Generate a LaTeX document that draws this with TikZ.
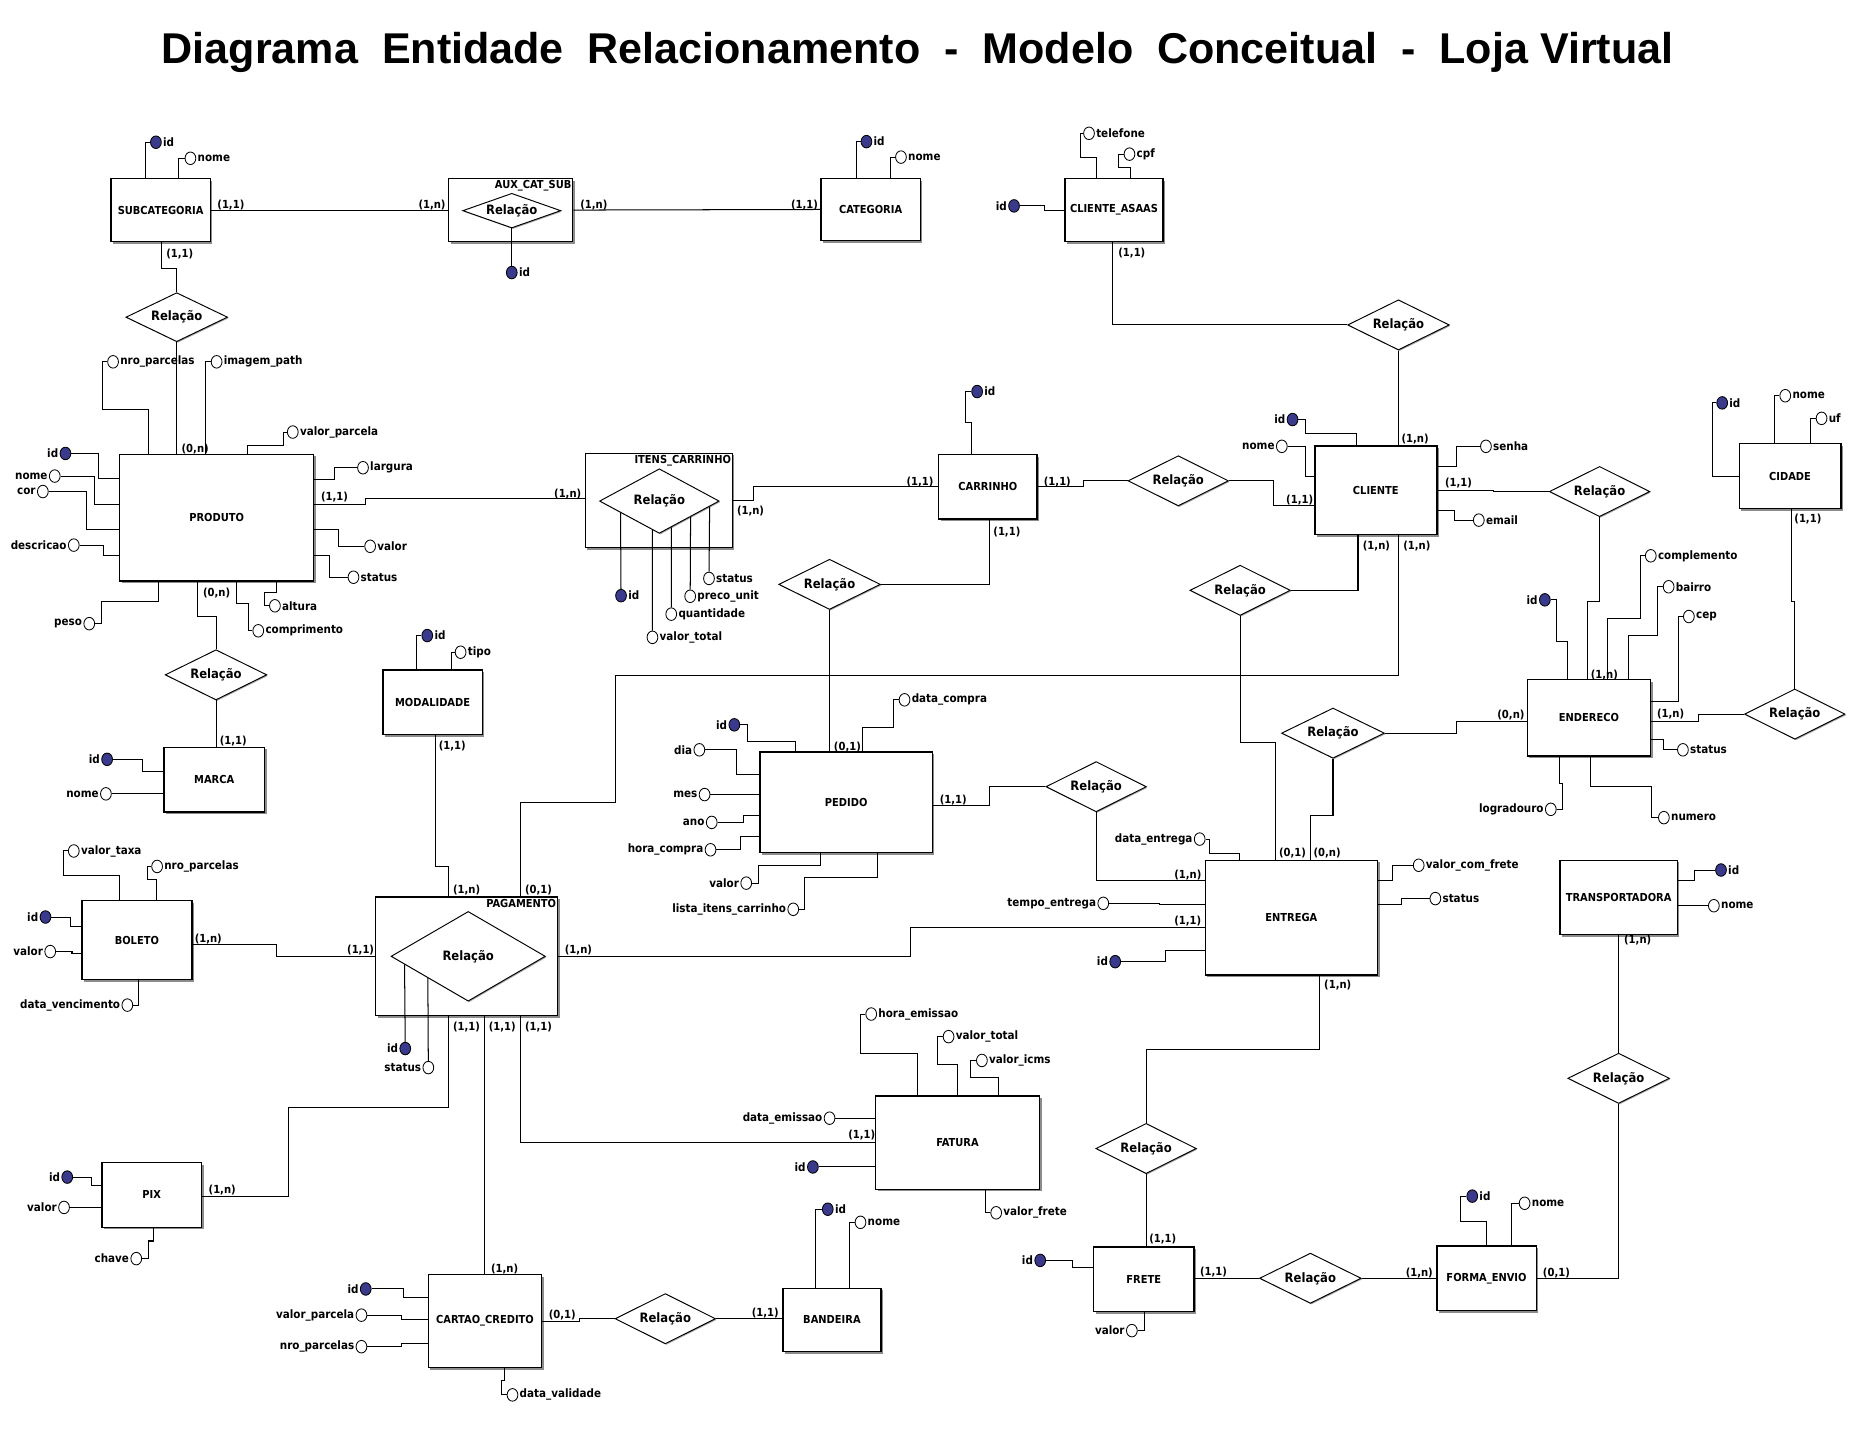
\documentclass[tikz,border=0pt]{standalone}
\usepackage{fontspec}
\setmainfont{Liberation Sans}
\newfontfamily\labfont{DejaVu Sans Condensed}
\usetikzlibrary{shapes.geometric,shadows,calc}
\definecolor{pkblue}{RGB}{58,58,140}
\newcommand{\attf}{\labfont\bfseries\fontsize{9.65}{11}\selectfont}
\newcommand{\entf}{\labfont\bfseries\fontsize{9.2}{11}\selectfont}
\newcommand{\relf}{\labfont\bfseries\fontsize{10.8}{13}\selectfont}
\newcommand{\cardf}{\labfont\bfseries\fontsize{9.3}{11}\selectfont}
\newcommand{\titlef}{\rmfamily\bfseries\fontsize{36}{40}\selectfont}
\newcommand{\wgap}{\hspace{0.556em}}
\tikzset{
 ent/.style={draw, line width=1.1pt, fill=white, inner sep=0pt, font=\entf,
   drop shadow={shadow xshift=1.8pt, shadow yshift=-1.8pt, fill=black!45, opacity=1}},
 rel/.style={diamond, draw, line width=0.8pt, fill=white, aspect=3, inner sep=0pt, font=\relf,
   drop shadow={shadow xshift=0.9pt, shadow yshift=-0.9pt, fill=black!35, opacity=1}},
 att/.style={ellipse, draw, line width=0.7pt, fill=white, minimum width=9pt, minimum height=10.5pt, inner sep=0pt, label distance=1pt},
 pk/.style={att, fill=pkblue},
 card/.style={inner sep=0pt, font=\cardf},
 ttl/.style={inner sep=1pt, font=\entf, anchor=north east},
 lnk/.style={line width=0.85pt},
 every label/.append style={font=\attf, inner sep=1pt},
}
\begin{document}
\begin{tikzpicture}[x=0.995pt,y=-0.995pt]
\fill[white] (0,0) rectangle (1567.84,1220.1);
\useasboundingbox (0,0) rectangle (1567.84,1220.1);

\node[font=\titlef, anchor=base, inner sep=0pt] (title) at (771,53)
 {Diagrama\wgap Entidade\wgap Relacionamento\wgap -\wgap Modelo\wgap Conceitual\wgap -\wgap Loja Virtual};

% ---------- entities ----------
\node[ent, minimum width=83pt, minimum height=53pt] (sub) at (135,176.5) {SUBCATEGORIA};
\node[ent, minimum width=104pt, minimum height=53pt] (aux) at (429,176.5) {};
\node[ent, minimum width=83pt, minimum height=52pt] (cat) at (731.5,176) {CATEGORIA};
\node[ent, minimum width=82pt, minimum height=53pt] (cla) at (936,176.5) {CLIENTE\_ASAAS};
\node[ent, minimum width=162pt, minimum height=106pt] (prod) at (182,435) {PRODUTO};
\node[ent, minimum width=123pt, minimum height=79pt] (itens) at (553.5,420.5) {};
\node[ent, minimum width=82pt, minimum height=54pt] (car) at (830,409) {CARRINHO};
\node[ent, minimum width=102pt, minimum height=74pt] (cli) at (1156,412) {CLIENTE};
\node[ent, minimum width=85pt, minimum height=54pt] (cid) at (1504,400) {CIDADE};
\node[ent, minimum width=103pt, minimum height=64pt] (endr) at (1335,603) {ENDERECO};
\node[ent, minimum width=83pt, minimum height=54pt] (mod) at (363.5,590) {MODALIDADE};
\node[ent, minimum width=84pt, minimum height=54pt] (marca) at (180,655) {MARCA};
\node[ent, minimum width=144pt, minimum height=84pt] (ped) at (711,674) {PEDIDO};
\node[ent, minimum width=144pt, minimum height=96pt] (entg) at (1085,771) {ENTREGA};
\node[ent, minimum width=98pt, minimum height=62pt] (transp) at (1360,754) {TRANSPORTADORA};
\node[ent, minimum width=92pt, minimum height=66pt] (bol) at (115,790) {BOLETO};
\node[ent, minimum width=152pt, minimum height=99pt] (pag) at (392,803.5) {};
\node[ent, minimum width=137pt, minimum height=78pt] (fat) at (804.5,960) {FATURA};
\node[ent, minimum width=83pt, minimum height=54pt] (pix) at (127.5,1004) {PIX};
\node[ent, minimum width=95pt, minimum height=78pt] (cc) at (407.5,1110) {CARTAO\_CREDITO};
\node[ent, minimum width=82pt, minimum height=53pt] (band) at (699,1109) {BANDEIRA};
\node[ent, minimum width=84pt, minimum height=54pt] (frete) at (961,1075) {FRETE};
\node[ent, minimum width=83pt, minimum height=54pt] (fe) at (1249,1074) {FORMA\_ENVIO};

\node[ttl] (auxt) at ([xshift=-0.5pt,yshift=-1pt]aux.north east) {AUX\_CAT\_SUB};
\node[ttl] (itenst) at ([xshift=-0.5pt,yshift=-1pt]itens.north east) {ITENS\_CARRINHO};
\node[ttl] (pagt) at ([xshift=-0.5pt,yshift=-1pt]pag.north east) {PAGAMENTO};

% ---------- relationships ----------
\node[rel, minimum width=85pt, minimum height=41pt] (r1) at (148.5,266.5) {Relação};
\node[rel, minimum width=82pt, minimum height=29pt] (raux) at (430,177) {Relação};
\node[rel, minimum width=85pt, minimum height=42pt] (rcla) at (1175,273) {Relação};
\node[rel, minimum width=100pt, minimum height=54pt] (ritens) at (554,421) {Relação};
\node[rel, minimum width=84pt, minimum height=42pt] (rcarcli) at (990,404) {Relação};
\node[rel, minimum width=85pt, minimum height=42pt] (rcarped) at (697,491) {Relação};
\node[rel, minimum width=84pt, minimum height=42pt] (rclient) at (1042,496) {Relação};
\node[rel, minimum width=84pt, minimum height=42pt] (rcliend) at (1344,413) {Relação};
\node[rel, minimum width=86pt, minimum height=42pt] (rendent) at (1120,616) {Relação};
\node[rel, minimum width=84pt, minimum height=42pt] (rendcid) at (1508,600) {Relação};
\node[rel, minimum width=85pt, minimum height=42pt] (r2) at (181.5,567) {Relação};
\node[rel, minimum width=84pt, minimum height=42pt] (rpedent) at (921,661) {Relação};
\node[rel, minimum width=129pt, minimum height=75pt] (rpag) at (393.4,803.5) {Relação};
\node[rel, minimum width=84pt, minimum height=42pt] (rccband) at (559,1108) {Relação};
\node[rel, minimum width=84pt, minimum height=42pt] (rentfre) at (963,965) {Relação};
\node[rel, minimum width=85pt, minimum height=42pt] (rfrefe) at (1101,1074) {Relação};
\node[rel, minimum width=85pt, minimum height=42pt] (rtransp) at (1360,906) {Relação};

% ---------- attributes ----------
\node[pk, label=right:id] (subid) at (131,119.5) {};
\node[att, label=right:nome] (subnome) at (160,133) {};
\node[pk, label=right:id] (auxid) at (430,229) {};
\node[pk, label=right:id] (catid) at (728,119) {};
\node[att, label=right:nome] (catnome) at (757,132) {};
\node[att, label=right:telefone] (clatel) at (915,112) {};
\node[att, label=right:cpf] (clacpf) at (949,129.5) {};
\node[pk, label=left:id] (claid) at (852,173) {};

\node[att, label=right:nro\_parcelas] (prodnro) at (95,304) {};
\node[att, label=right:imagem\_path] (prodimg) at (182,304) {};
\node[att, label=right:valor\_parcela] (prodvp) at (246,363) {};
\node[pk, label=left:id] (prodid) at (55,381) {};
\node[att, label=left:nome] (prodnome) at (46,400) {};
\node[att, label=left:cor] (prodcor) at (36,413) {};
\node[att, label=left:descricao] (proddesc) at (62,458) {};
\node[att, label=left:peso] (prodpeso) at (75,524) {};
\node[att, label=right:altura] (prodalt) at (231,509) {};
\node[att, label=right:comprimento] (prodcomp) at (217,530) {};
\node[att, label=right:largura] (prodlarg) at (305,393) {};
\node[att, label=right:valor] (prodval) at (311,459) {};
\node[att, label=right:status] (prodstat) at (297,485) {};

\node[pk, label=left:id] (marcaid) at (90,638) {};
\node[att, label=left:nome] (marcanome) at (89,667) {};
\node[pk, label=right:id] (modid) at (359,534) {};
\node[att, label=right:tipo] (modtipo) at (387,548) {};

\node[pk, label=right:id] (itid) at (521.8,500.5) {};
\node[att, label=right:valor\_total] (itvt) at (548.2,535.5) {};
\node[att, label=right:quantidade] (itqt) at (564,516) {};
\node[att, label=right:preco\_unit] (itpu) at (579.9,501) {};
\node[att, label=right:status] (itst) at (595.7,486) {};
\node[pk, label=right:id] (carid) at (821,329) {};

\node[pk, label=left:id] (cliid) at (1086,352.5) {};
\node[att, label=left:nome] (clinome) at (1077,375) {};
\node[att, label=right:senha] (clisenha) at (1248.5,375) {};
\node[att, label=right:email] (cliemail) at (1242.5,437) {};
\node[pk, label=right:id] (cidid) at (1447,338.5) {};
\node[att, label=right:nome] (cidnome) at (1500,332.5) {};
\node[att, label=right:uf] (ciduf) at (1530.5,351.5) {};

\node[pk, label=left:id] (endid) at (1298,504) {};
\node[att, label=right:complemento] (endcomp) at (1387,467) {};
\node[att, label=right:bairro] (endbai) at (1402,493) {};
\node[att, label=right:cep] (endcep) at (1419,518) {};
\node[att, label=right:status] (endstat) at (1414,630) {};
\node[att, label=left:logradouro] (endlog) at (1303,680) {};
\node[att, label=right:numero] (endnum) at (1398,687) {};

\node[pk, label=left:id] (pedid) at (617,609) {};
\node[att, label=left:dia] (peddia) at (587.6,630) {};
\node[att, label=left:mes] (pedmes) at (592,667.6) {};
\node[att, label=left:ano] (pedano) at (598,691) {};
\node[att, label=left:hora\_compra] (pedhora) at (597,714) {};
\node[att, label=right:data\_compra] (peddc) at (760,588) {};
\node[att, label=left:valor] (pedval) at (627,742) {};
\node[att, label=left:lista\_itens\_carrinho] (pedlista) at (666.5,764) {};

\node[att, label=left:data\_entrega] (entde) at (1008,705) {};
\node[att, label=left:tempo\_entrega] (entte) at (927,759) {};
\node[pk, label=left:id] (entid) at (937,808) {};
\node[att, label=right:valor\_com\_frete] (entvcf) at (1192,727) {};
\node[att, label=right:status] (entst) at (1206,755) {};
\node[pk, label=right:id] (trid) at (1446,731) {};
\node[att, label=right:nome] (trnome) at (1440,761) {};

\node[att, label=right:valor\_taxa] (bolvt) at (62,715) {};
\node[att, label=right:nro\_parcelas] (bolnro) at (132,728) {};
\node[pk, label=left:id] (bolid) at (38.2,770.5) {};
\node[att, label=left:valor] (bolval) at (42.2,799.5) {};
\node[att, label=left:data\_vencimento] (boldv) at (107,844.5) {};
\node[pk, label=left:id] (pagid) at (340.5,881) {};
\node[att, label=left:status] (pagst) at (359.9,897) {};

\node[att, label=right:hora\_emissao] (fathe) at (732,852) {};
\node[att, label=right:valor\_total] (fatvt) at (797,871) {};
\node[att, label=right:valor\_icms] (fatvi) at (825,891) {};
\node[att, label=left:data\_emissao] (fatde) at (697,939.5) {};
\node[pk, label=left:id] (fatid) at (683,980.5) {};
\node[att, label=right:valor\_frete] (fatvf) at (837,1019) {};

\node[pk, label=left:id] (pixid) at (56.5,989) {};
\node[att, label=left:valor] (pixval) at (53.8,1014.5) {};
\node[att, label=left:chave] (pixch) at (114.5,1057.5) {};
\node[pk, label=left:id] (ccid) at (307.3,1083) {};
\node[att, label=left:valor\_parcela] (ccvp) at (303.7,1105) {};
\node[att, label=left:nro\_parcelas] (ccnp) at (303.7,1131.5) {};
\node[att, label=right:data\_validade] (ccdv) at (430.6,1172) {};
\node[pk, label=right:id] (bandid) at (695.5,1016) {};
\node[att, label=right:nome] (bandnome) at (723,1027) {};
\node[pk, label=left:id] (freid) at (874,1059) {};
\node[att, label=left:valor] (freval) at (951,1118) {};
\node[pk, label=right:id] (feid) at (1237,1005) {};
\node[att, label=right:nome] (fenome) at (1281,1011) {};

% ---------- cardinalities ----------
\node[card] (k1) at (194,172) {(1,1)};
\node[card] (k2) at (363,172) {(1,n)};
\node[card] (k3) at (499,172) {(1,n)};
\node[card] (k4) at (676,172) {(1,1)};
\node[card] (k5) at (151,213.5) {(1,1)};
\node[card] (k6) at (164,377.5) {(0,n)};
\node[card] (k7) at (951,213) {(1,1)};
\node[card] (k8) at (1189,369) {(1,n)};
\node[card] (k9) at (281,418) {(1,1)};
\node[card] (k10) at (477,415) {(1,n)};
\node[card] (k11) at (182,498) {(0,n)};
\node[card] (k12) at (196,622.5) {(1,1)};
\node[card] (k13) at (380,627) {(1,1)};
\node[card] (k14) at (392,748) {(1,n)};
\node[card] (k15) at (452.5,748) {(0,1)};
\node[card] (k16) at (630.6,429.5) {(1,n)};
\node[card] (k17) at (773,404.8) {(1,1)};
\node[card] (k18) at (888.4,404.8) {(1,1)};
\node[card] (k19) at (1092,419.8) {(1,1)};
\node[card] (k20) at (846,447) {(1,1)};
\node[card] (k21) at (712,628) {(0,1)};
\node[card] (k22) at (1225.5,405.5) {(1,1)};
\node[card] (k23) at (1156.5,459) {(1,n)};
\node[card] (k24) at (1190.5,459) {(1,n)};
\node[card] (k25) at (1348,567.3) {(1,n)};
\node[card] (k26) at (1269.5,601) {(0,n)};
\node[card] (k27) at (1403.7,600) {(1,n)};
\node[card] (k28) at (1519,436.3) {(1,1)};
\node[card] (k29) at (801,672) {(1,1)};
\node[card] (k30) at (998,735.5) {(1,n)};
\node[card] (k31) at (998,774) {(1,1)};
\node[card] (k32) at (1086,717) {(0,1)};
\node[card] (k33) at (1115,717) {(0,n)};
\node[card] (k34) at (486,798.5) {(1,n)};
\node[card] (k35) at (303,798.5) {(1,1)};
\node[card] (k36) at (175,788.6) {(1,n)};
\node[card] (k37) at (392,863) {(1,1)};
\node[card] (k38) at (422,863) {(1,1)};
\node[card] (k39) at (452.5,863) {(1,1)};
\node[card] (k40) at (186.7,1000) {(1,n)};
\node[card] (k41) at (424,1066) {(1,n)};
\node[card] (k42) at (724,954) {(1,1)};
\node[card] (k43) at (472.4,1105) {(0,1)};
\node[card] (k44) at (643,1103) {(1,1)};
\node[card] (k45) at (1124,828) {(1,n)};
\node[card] (k46) at (977,1041) {(1,1)};
\node[card] (k47) at (1019.6,1068.5) {(1,1)};
\node[card] (k48) at (1192.5,1069.5) {(1,n)};
\node[card] (k49) at (1307.7,1069.5) {(0,1)};
\node[card] (k50) at (1376,790) {(1,n)};

% ---------- connectors ----------
\begin{scope}[lnk]
% SUBCATEGORIA / AUX / CATEGORIA
\draw (sub.north -| 122,0) |- (subid);
\draw (sub.north -| 150,0) |- (subnome);
\draw (sub.east) -- (aux.west);
\draw (sub.south -| 136,0) |- (148.5,226) -- (r1.north);
\draw (r1.south) -- (r1.south |- prod.north);
\draw (raux.south) -- (auxid);
\draw (aux.east) -- (cat.west);
\draw (cat.north -| 720,0) |- (catid);
\draw (cat.north -| 748,0) |- (catnome);
% CLIENTE_ASAAS
\draw (cla.north -| 921,0) |- (908,132) |- (clatel);
\draw (cla.north -| 949.5,0) |- (940,141) |- (clacpf);
\draw (claid) -| (878,177) -- (cla.west |- 0,177);
\draw (cla.south -| 935,0) |- (rcla.west);
\draw (rcla.south) -- (rcla.south |- cli.north);
% PRODUTO
\draw (prod.north -| 125,0) |- (86,344) |- (prodnro);
\draw (prod.north -| 173,0) |- (prodimg);
\draw (prod.north -| 208,0) |- (238,374) |- (prodvp);
\draw (prodid) -| (83,402) -- (prod.west |- 0,402);
\draw (prodnome) -| (79,424) -- (prod.west |- 0,424);
\draw (prodcor) -| (73,445) -- (prod.west |- 0,445);
\draw (proddesc) -| (87,467) -- (prod.west |- 0,467);
\draw (prod.south -| 133,0) |- (85,505) |- (prodpeso);
\draw (prod.south -| 232,0) |- (222,498) |- (prodalt);
\draw (prod.south -| 199,0) |- (209,507) |- (prodcomp);
\draw (prod.east |- 0,403) -| (281,393) -- (prodlarg);
\draw (prod.east |- 0,445) -| (284,459) -- (prodval);
\draw (prod.east |- 0,467) -| (277,485) -- (prodstat);
\draw (prod.east |- 0,424) -| (307,419) -- (itens.west |- 0,419);
\draw (prod.south -| 166,0) |- (181.5,518) -- (r2.north);
\draw (r2.south) -- (r2.south |- marca.north);
% MARCA / MODALIDADE
\draw (marcaid) -| (120,648) -- (marca.west |- 0,648);
\draw (marcanome) -- (marca.west |- marcanome);
\draw (mod.north -| 350,0) |- (modid);
\draw (mod.north -| 379,0) |- (modtipo);
\draw (mod.south -| 365.5,0) |- (377,728) -- (pag.north -| 377,0);
% ITENS_CARRINHO
\draw ($(ritens.west)!0.356!(ritens.south)$) -- (itid);
\draw ($(ritens.west)!0.884!(ritens.south)$) -- (itvt);
\draw ($(ritens.south)!0.2!(ritens.east)$) -- (itqt);
\draw ($(ritens.south)!0.518!(ritens.east)$) -- (itpu);
\draw ($(ritens.south)!0.834!(ritens.east)$) -- (itst);
\draw (itens.east) -| (633,409) -- (car.west);
% CARRINHO
\draw (car.north -| 816,0) |- (811,355) |- (carid);
\draw (car.east) -| (910,404) -- (rcarcli.west);
\draw (rcarcli.east) -| (1070,425) -- (cli.west |- 0,425);
\draw (car.south -| 831,0) |- (rcarped.east);
\draw (rcarped.south) -- (rcarped.south |- ped.north);
% CLIENTE
\draw (cliid) -| (1097,364) -| (cli.north -| 1140,0);
\draw (clinome) -| (1097,400) -- (cli.west |- 0,400);
\draw (cli.east |- 0,392) -| (1224,375) -- (clisenha);
\draw (cli.east |- 0,429) -| (1222,437) -- (cliemail);
\draw (cli.east) -| (1255,413) -- (rcliend.west);
\draw (rcliend.south) |- (1334,505) -- (endr.north -| 1334,0);
\draw (cli.south -| 1141,0) |- (rclient.east);
\draw (cli.south -| 1175,0) |- (517,567.6) |- (437,674) -- (pag.north -| 437,0);
% CIDADE
\draw (cid.west) -| (1438.5,338.5) -- (cidid);
\draw (cid.north -| 1491,0) |- (cidnome);
\draw (cid.north -| 1521,0) |- (ciduf);
\draw (rendcid.north) |- (1505,505) -- (cid.south -| 1505,0);
% ENDERECO
\draw (endid) -| (1308,539) -| (endr.north -| 1317,0);
\draw (endr.north -| 1351,0) |- (1378,520) |- (endcomp);
\draw (endr.north -| 1368,0) |- (1393,534) |- (endbai);
\draw (endr.east |- 0,589) -| (1410,518) -- (endcep);
\draw (endr.east |- 0,606) -| (1427,600) -- (rendcid.west);
\draw (endr.east |- 0,621) -| (1397.5,630) -- (endstat);
\draw (endr.south -| 1310,0) |- (1313,658.5) |- (endlog);
\draw (endr.south -| 1336,0) |- (1388,661) |- (endnum);
\draw (rendent.east) -| (1224,606) -- (endr.west |- 0,606);
\draw (rendent.south) |- (1101,685) -- (entg.north -| 1101,0);
\draw (rclient.south) |- (1071.5,624) -- (entg.north -| 1071.5,0);
% PEDIDO
\draw (pedid) -| (628,623) -| (ped.north -| 668,0);
\draw (peddia) -| (619,651) -- (ped.west |- 0,651);
\draw (pedmes) -- (ped.west |- pedmes);
\draw (pedano) -| (624.6,685) -- (ped.west |- 0,685);
\draw (pedhora) -| (622.5,702.6) -- (ped.west |- 0,702.6);
\draw (ped.north -| 725,0) |- (750.7,611.6) |- (peddc);
\draw (ped.south -| 689,0) |- (637,727) |- (pedval);
\draw (ped.south -| 737.6,0) |- (675.6,737) |- (pedlista);
\draw (ped.east |- 0,677) -| (831.7,661) -- (rpedent.west);
\draw (rpedent.south) |- (entg.west |- 0,740);
% ENTREGA
\draw (entde) -| (1016,717) -| (entg.north -| 1041.5,0);
\draw (entte) -| (974,760) -- (entg.west |- 0,760);
\draw (entid) -| (979,798.4) -- (entg.west |- 0,798.4);
\draw (entg.east |- 0,740) -| (1170.4,727) -- (entvcf);
\draw (entg.east |- 0,759.7) -| (1177.6,755) -- (entst);
\draw (entg.south -| 1109,0) |- (963,882) -- (rentfre.north);
\draw (rentfre.south) -- (rentfre.south |- frete.north);
% PAGAMENTO
\draw ($(rpag.west)!0.18!(rpag.south)$) -- (pagid);
\draw ($(rpag.west)!0.48!(rpag.south)$) -- (pagst);
\draw (bol.east |- 0,793.5) -| (232.6,803.5) -- (pag.west);
\draw (pag.east) -| (764.7,779) -- (entg.west |- 0,779);
\draw (pag.south -| 377,0) |- (242.5,930.6) |- (pix.east |- 0,1005);
\draw (pag.south -| 407,0) -- (cc.north -| 407,0);
\draw (pag.south -| 437,0) |- (fat.west |- 0,960);
% BOLETO
\draw (bol.north -| 100.3,0) |- (53.5,736) |- (bolvt);
\draw (bol.north -| 131.6,0) |- (123.6,738.8) |- (bolnro);
\draw (bolid) -| (59,778.4) -- (bol.west |- 0,778.4);
\draw (bolval) -| (60.5,801) -- (bol.west |- 0,801);
\draw (bol.south -| 116.3,0) |- (boldv);
% FATURA
\draw (fat.north -| 770.7,0) |- (722.8,885) |- (fathe);
\draw (fat.north -| 804.8,0) |- (788,894.8) |- (fatvt);
\draw (fat.north -| 838.6,0) |- (815.8,905) |- (fatvi);
\draw (fatde) -- (fat.west |- fatde);
\draw (fatid) -- (fat.west |- fatid);
\draw (fat.south -| 828.4,0) |- (fatvf);
% PIX
\draw (pixid) -| (77,996) -- (pix.west |- 0,996);
\draw (pixval) -- (pix.west |- pixval);
\draw (pix.south -| 128.6,0) |- (124.6,1042.7) |- (pixch);
% CARTAO_CREDITO / BANDEIRA
\draw (ccid) -| (339.2,1090) -- (cc.west |- 0,1090);
\draw (ccvp) -| (337.2,1109) -- (cc.west |- 0,1109);
\draw (ccnp) -| (337.2,1128.6) -- (cc.west |- 0,1128.6);
\draw (cc.south -| 423.9,0) |- (421.3,1160) |- (ccdv);
\draw (cc.east) -| (486.7,1108) -- (rccband.west);
\draw (rccband.east) -- (band.west |- rccband.east);
\draw (band.north -| 685.5,0) |- (bandid);
\draw (band.north -| 714,0) |- (bandnome);
% FRETE / FORMA_ENVIO / TRANSPORTADORA
\draw (freid) -| (901,1064.6) -- (frete.west |- 0,1064.6);
\draw (frete.south -| 961.5,0) |- (freval);
\draw (frete.east |- 0,1074) -- (rfrefe.west);
\draw (rfrefe.east) -- (fe.west |- rfrefe.east);
\draw (fe.north -| 1249,0) |- (1227.5,1026) |- (feid);
\draw (fe.north -| 1270,0) |- (fenome);
\draw (fe.east |- 0,1074.4) -| (rtransp.south);
\draw (rtransp.north) -- (rtransp.north |- transp.south);
\draw (transp.east |- 0,740) -| (1424,731) -- (trid);
\draw (transp.east |- 0,761) -- (trnome);
\end{scope}
\end{tikzpicture}
\end{document}
